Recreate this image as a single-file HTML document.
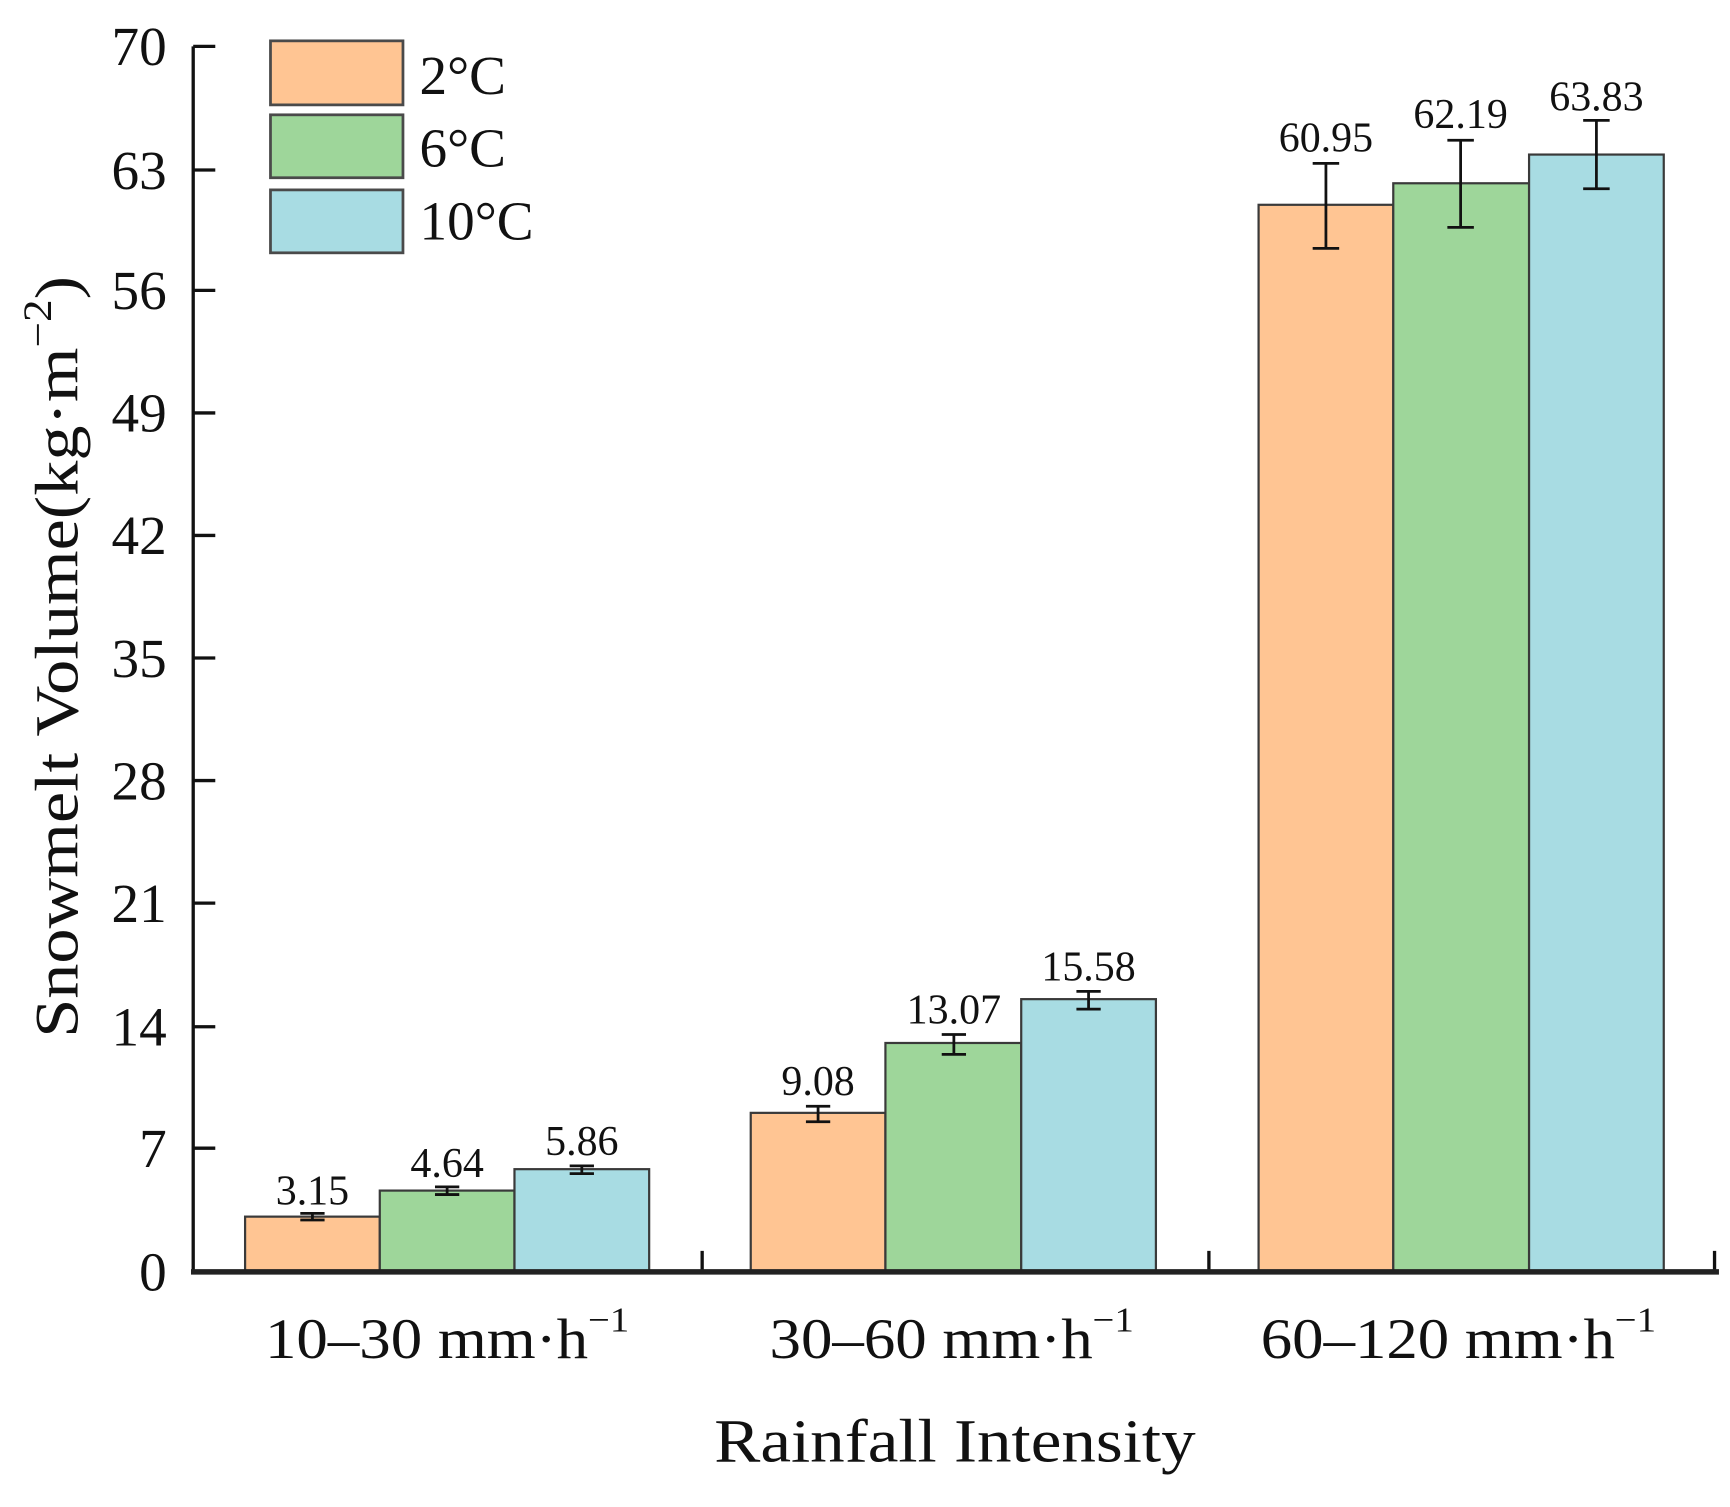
<!DOCTYPE html>
<html><head><meta charset="utf-8"><style>
html,body{margin:0;padding:0;background:#fff;}
svg{display:block;}
text{font-family:"Liberation Serif",serif;fill:#111;}
</style></head><body>
<svg width="1730" height="1507" viewBox="0 0 1567 1365" preserveAspectRatio="none" xmlns="http://www.w3.org/2000/svg">
<g stroke="#3a3a3a" stroke-width="2">
<rect x="222" y="1102" width="122" height="50" fill="#FFC593"/>
<rect x="344" y="1078.4" width="122" height="73.6" fill="#9ED69A"/>
<rect x="466" y="1059" width="122" height="93" fill="#A8DCE3"/>
<rect x="680" y="1008" width="122" height="144" fill="#FFC593"/>
<rect x="802" y="944.7" width="123" height="207.3" fill="#9ED69A"/>
<rect x="925" y="905" width="122" height="247" fill="#A8DCE3"/>
<rect x="1140" y="185.5" width="122" height="966.5" fill="#FFC593"/>
<rect x="1262" y="166" width="123" height="986" fill="#9ED69A"/>
<rect x="1385" y="140" width="122" height="1012" fill="#A8DCE3"/>
</g>
<g stroke="#111" stroke-width="2.5" fill="none">
<path d="M283 1099v6M272 1099h22M272 1105h22"/>
<path d="M405 1075v7M394 1075h22M394 1082h22"/>
<path d="M527 1056v7M516 1056h22M516 1063h22"/>
<path d="M741 1002v14M730 1002h22M730 1016h22"/>
<path d="M864 937v18M853 937h22M853 955h22"/>
<path d="M986 898v16M975 898h22M975 914h22"/>
<path d="M1201 148v77M1189 148h24M1189 225h24"/>
<path d="M1323 127v79M1311 127h24M1311 206h24"/>
<path d="M1446 109v62M1434 109h24M1434 171h24"/>
</g>
<g stroke="#111" stroke-width="3" fill="none">
<path d="M175 42V1152"/>
<path d="M175 42h20M175 154h20M175 263h20M175 374h20M175 485h20M175 596h20M175 707h20M175 818h20M175 930h20M175 1040h20"/>
<path d="M636 1133v19M1095 1133v19M1553 1133v19"/>
</g>
<path d="M173 1152H1557" stroke="#222" stroke-width="5"/>
<g font-size="50" text-anchor="end">
<text x="151" y="59">70</text><text x="151" y="171">63</text><text x="151" y="280">56</text>
<text x="151" y="391">49</text><text x="151" y="502">42</text><text x="151" y="613">35</text>
<text x="151" y="724">28</text><text x="151" y="835">21</text><text x="151" y="947">14</text>
<text x="151" y="1057">7</text><text x="151" y="1169">0</text>
</g>
<g font-size="38" text-anchor="middle">
<text x="283" y="1091">3.15</text><text x="405" y="1066">4.64</text><text x="527" y="1046">5.86</text>
<text x="741" y="992">9.08</text><text x="864" y="927">13.07</text><text x="986" y="888">15.58</text>
<text x="1201" y="137">60.95</text><text x="1323" y="116">62.19</text><text x="1446" y="100">63.83</text>
</g>
<g stroke="#4a4a4a" stroke-width="2.5">
<rect x="245" y="37" width="120" height="58" fill="#FFC593"/>
<rect x="245" y="104" width="120" height="57" fill="#9ED69A"/>
<rect x="245" y="172" width="120" height="57" fill="#A8DCE3"/>
</g>
<g font-size="50">
<text x="380" y="85">2°C</text><text x="380" y="151">6°C</text><text x="380" y="217">10°C</text>
</g>
<g font-size="52">
<text x="240" y="1230" textLength="330" lengthAdjust="spacingAndGlyphs">10–30 mm·h<tspan font-size="32" dy="-24">−1</tspan></text>
<text x="697" y="1230" textLength="330" lengthAdjust="spacingAndGlyphs">30–60 mm·h<tspan font-size="32" dy="-24">−1</tspan></text>
<text x="1142" y="1230" textLength="358" lengthAdjust="spacingAndGlyphs">60–120 mm·h<tspan font-size="32" dy="-24">−1</tspan></text>
<text x="647" y="1324" font-size="56" textLength="436" lengthAdjust="spacingAndGlyphs">Rainfall Intensity</text>
<text transform="translate(70,940) rotate(-90)" font-size="56" textLength="690" lengthAdjust="spacingAndGlyphs">Snowmelt Volume(kg·m<tspan font-size="36" dy="-24">−2</tspan><tspan dy="24">)</tspan></text>
</g>
</svg>
</body></html>
